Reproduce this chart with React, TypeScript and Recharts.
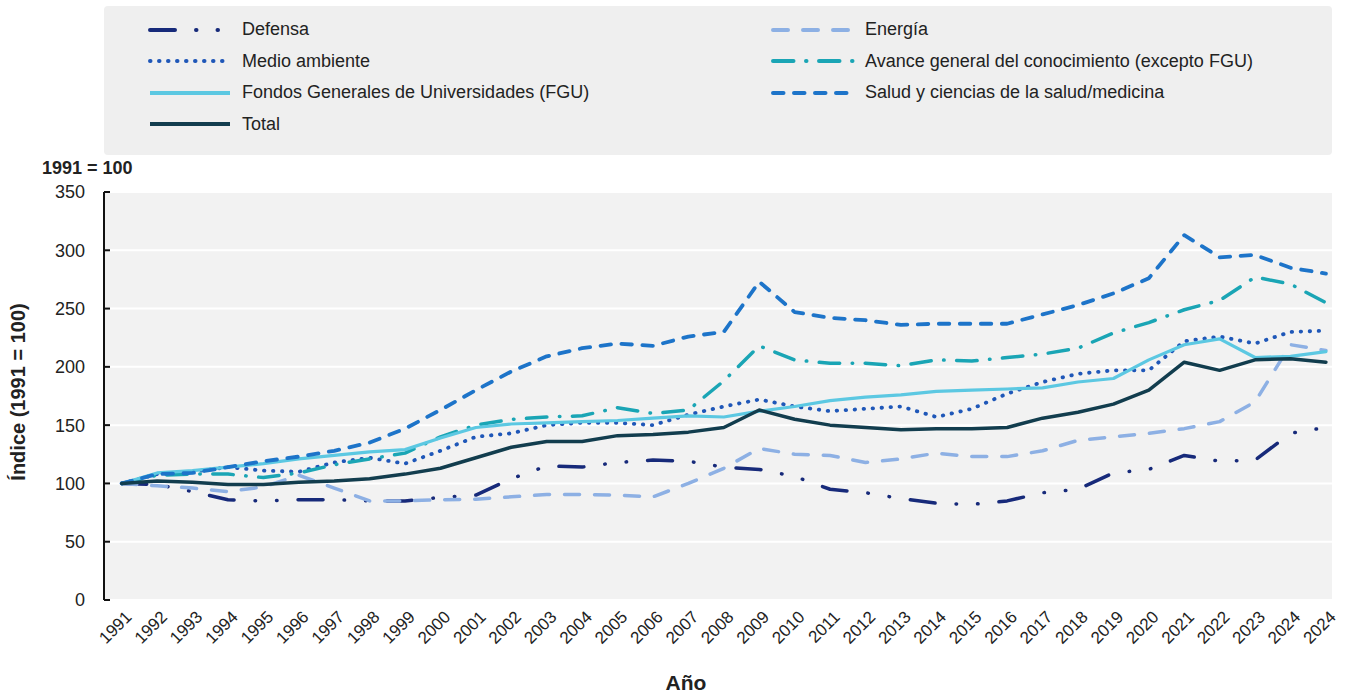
import React from 'react';
import { LineChart, Line, XAxis, YAxis, CartesianGrid } from 'recharts';

const years = ['1991','1992','1993','1994','1995','1996','1997','1998','1999','2000','2001','2002','2003','2004','2005','2006','2007','2008','2009','2010','2011','2012','2013','2014','2015','2016','2017','2018','2019','2020','2021','2022','2023','2024','2024'];

const defensa = [100, 99, 93, 86, 85, 86, 86, 85, 85, 88, 90, 104, 115, 114, 118, 120, 119, 114, 112, 106, 95, 92, 87, 83, 82, 85, 92, 95, 109, 112, 124, 119, 120, 143, 148];
const energia = [100, 98, 96, 93, 97, 107, 96, 85, 85, 86, 86.5, 88.5, 90.5, 90.5, 90, 88.5, 100, 113, 130, 125, 124, 118, 121, 126, 123, 123, 128, 137, 140, 143, 147, 153, 170, 219, 214];
const medio = [100, 108, 110, 114, 111, 110, 118, 122, 117, 128, 140, 143, 150, 152, 152, 150, 159, 166, 172, 166, 162, 164, 166, 157, 164, 177, 187, 194, 197, 197, 222, 226, 220, 230, 231];
const avance = [100, 107, 108, 108, 105, 109, 116, 121, 126, 140, 150, 155, 157, 158, 165, 160, 163, 188, 218, 206, 203, 203, 201, 206, 205, 208, 211, 216, 229, 238, 249, 257, 277, 271, 255];
const fgu = [100, 109, 111, 114, 117, 121, 124, 127, 129, 139, 148, 151, 152, 153, 154, 156, 158, 157, 162, 166, 171, 174, 176, 179, 180, 181, 182, 187, 190, 206, 219, 224, 208, 209, 213];
const salud = [100, 108, 109, 114, 119, 123, 128, 135, 147, 163, 180, 196, 209, 216, 220, 218, 226, 230, 273, 247, 242, 240, 236, 237, 237, 237, 245, 253, 263, 276, 313, 294, 296, 285, 280];
const total = [100, 102, 101, 99, 99, 101, 102, 104, 108, 113, 122, 131, 136, 136, 141, 142, 144, 148, 163, 155, 150, 148, 146, 147, 147, 148, 156, 161, 168, 180, 204, 197, 206, 207, 204];

const yTicks = [0, 50, 100, 150, 200, 250, 300, 350];

type Series = { key: string; name: string; values: number[]; color: string; dash?: string; width: number };

const series: Series[] = [
  { key: 'defensa', name: 'Defensa', values: defensa, color: '#172a7a', dash: '25 21 0.5 21 0.5 21', width: 3.5 },
  { key: 'energia', name: 'Energía', values: energia, color: '#8db0e4', dash: '15 15', width: 3.5 },
  { key: 'medio', name: 'Medio ambiente', values: medio, color: '#1f57b8', dash: '0.5 8.5', width: 3.8 },
  { key: 'avance', name: 'Avance general del conocimiento (excepto FGU)', values: avance, color: '#1aa5b5', dash: '20.5 12.5 0.5 12.5', width: 3.5 },
  { key: 'fgu', name: 'Fondos Generales de Universidades (FGU)', values: fgu, color: '#5cc8e2', width: 3.2 },
  { key: 'salud', name: 'Salud y ciencias de la salud/medicina', values: salud, color: '#1d74c9', dash: '10.5 10.5', width: 3.8 },
  { key: 'total', name: 'Total', values: total, color: '#123d4e', width: 3.5 },
];

const legendCol1 = ['defensa', 'medio', 'fgu', 'total'];
const legendCol2 = ['energia', 'avance', 'salud'];

const data = years.map((y, i) => {
  const row: Record<string, number | string> = { idx: i, year: y };
  series.forEach((s) => { row[s.key] = s.values[i]; });
  return row;
});

const boundaryTicks = [...years.map((_, i) => i - 0.5), 34.2];
const centerTicks = years.map((_, i) => i);

const FONT = '"Liberation Sans", Arial, Helvetica, sans-serif';

const YearTick = (props: any) => {
  const { x, y, payload } = props;
  const ax = x + 11;
  const ay = y + 18;
  return (
    <text x={ax} y={ay} transform={`rotate(-45 ${ax} ${ay})`} textAnchor="end" fontSize={17} fill="#222" fontFamily={FONT}>
      {years[payload.value]}
    </text>
  );
};

const LegendItem = ({ s }: { s: Series }) => (
  <div style={{ display: 'flex', alignItems: 'center', height: 31.5 }}>
    <svg width={84} height={12} style={{ marginRight: 10 }}>
      <line x1={2} y1={6} x2={82} y2={6} stroke={s.color} strokeWidth={4} strokeDasharray={s.dash} strokeLinecap={s.dash ? 'round' : 'butt'} />
    </svg>
    <span style={{ fontSize: 18, color: '#222', whiteSpace: 'nowrap' }}>{s.name}</span>
  </div>
);

const byKey = (k: string) => series.find((s) => s.key === k)!;

export default function App() {
  return (
    <div style={{ position: 'absolute', left: 0, top: 0, width: 1345, height: 696, background: '#fff', fontFamily: FONT }}>
      <div style={{ position: 'absolute', left: 104, top: 6, width: 1228, height: 149, background: '#efefef', borderRadius: 4 }}>
        <div style={{ position: 'absolute', left: 44, top: 8 }}>
          {legendCol1.map((k) => <LegendItem key={k} s={byKey(k)} />)}
        </div>
        <div style={{ position: 'absolute', left: 667, top: 8 }}>
          {legendCol2.map((k) => <LegendItem key={k} s={byKey(k)} />)}
        </div>
      </div>
      <div style={{ position: 'absolute', left: 42, top: 158, fontSize: 18, fontWeight: 'bold', color: '#222', whiteSpace: 'nowrap' }}>1991 = 100</div>
      <div style={{ position: 'absolute', left: 18, top: 392, transform: 'translate(-50%, -50%) rotate(-90deg)', fontSize: 20, fontWeight: 'bold', color: '#222', whiteSpace: 'nowrap' }}>Índice (1991 = 100)</div>
      <div style={{ position: 'absolute', left: 686, top: 683, transform: 'translate(-50%, -50%)', fontSize: 21, fontWeight: 'bold', color: '#222', whiteSpace: 'nowrap' }}>Año</div>
      <div style={{ position: 'absolute', left: 0, top: 0 }}>
        <LineChart width={1345} height={696} data={data} margin={{ top: 192, right: 12, left: 0, bottom: 36 }}>
          <CartesianGrid xAxisId="bound" fill="#f2f2f2" stroke="#ffffff" strokeWidth={2} horizontal vertical />
          <XAxis xAxisId="bound" dataKey="idx" type="number" domain={[-0.5, 34.2]} allowDataOverflow ticks={boundaryTicks} interval={0} tick={false} tickSize={-7} height={0} axisLine={{ stroke: '#111', strokeWidth: 2 }} tickLine={{ stroke: '#111', strokeWidth: 2 }} />
          <XAxis xAxisId="lab" dataKey="idx" type="number" domain={[-0.5, 34.2]} allowDataOverflow ticks={centerTicks} interval={0} tick={<YearTick />} tickSize={0} tickMargin={0} height={60} axisLine={false} tickLine={false} />
          <YAxis domain={[0, 350]} ticks={yTicks} width={104} tickSize={-6} tickMargin={25} interval={0} axisLine={{ stroke: '#111', strokeWidth: 2 }} tickLine={{ stroke: '#111', strokeWidth: 2 }} tick={{ fontSize: 18, fill: '#222', fontFamily: FONT }} />
          {series.map((s) => (
            <Line key={s.key} xAxisId="lab" dataKey={s.key} name={s.name} stroke={s.color} strokeWidth={s.width} strokeDasharray={s.dash} strokeLinecap="round" strokeLinejoin="round" dot={false} activeDot={false} isAnimationActive={false} />
          ))}
        </LineChart>
      </div>
    </div>
  );
}
